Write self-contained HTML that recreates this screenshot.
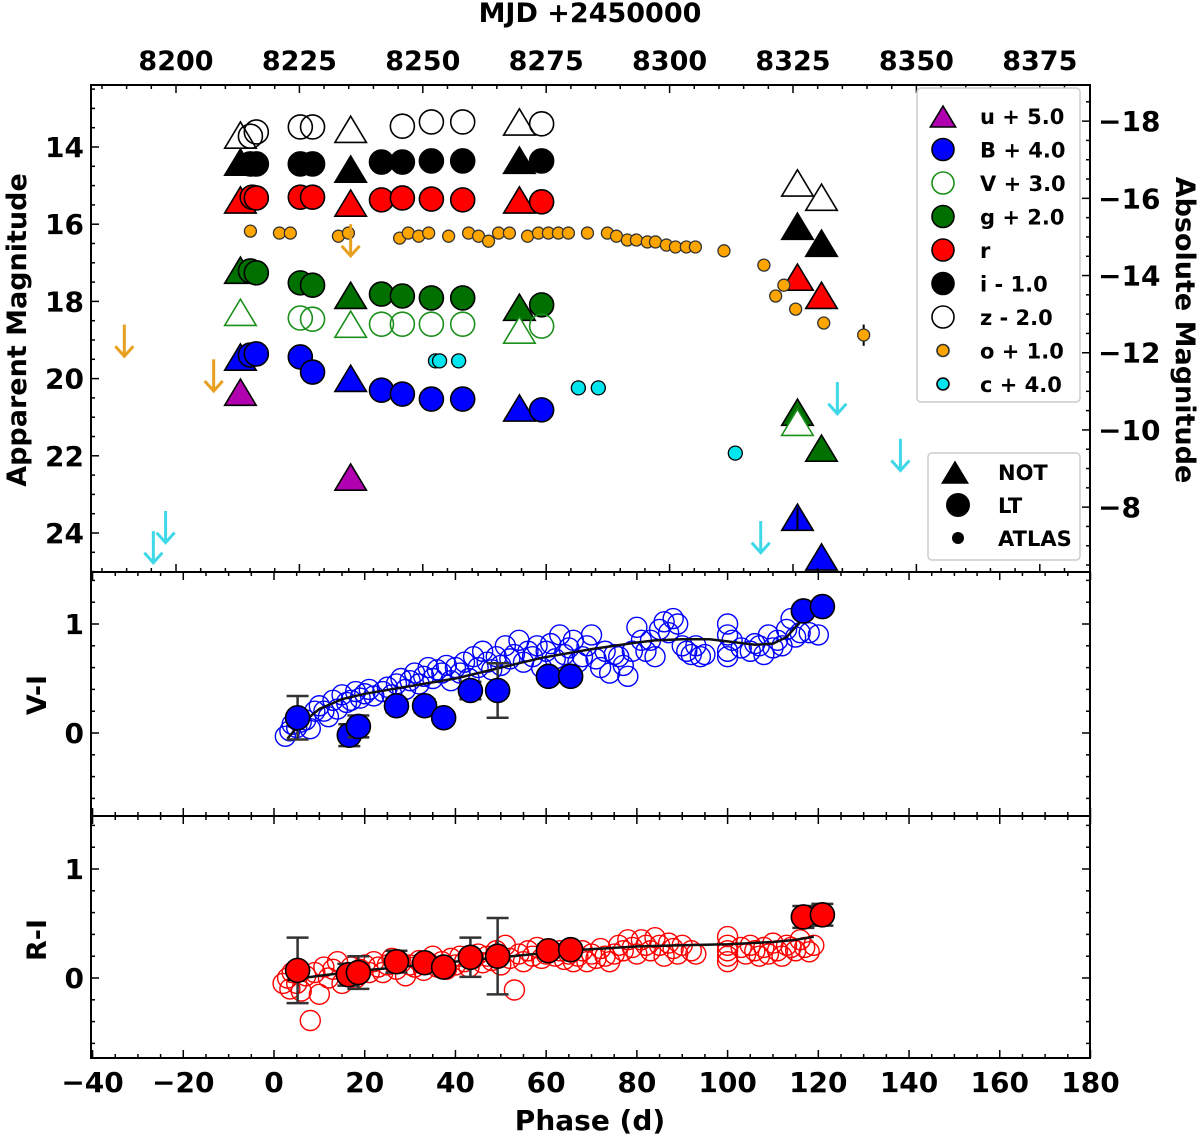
<!DOCTYPE html>
<html><head><meta charset="utf-8"><style>
html,body{margin:0;padding:0;background:#fff}
svg{display:block}
text{font-family:"DejaVu Sans","Liberation Sans",sans-serif;font-weight:bold;fill:#000}
</style></head><body>
<svg id="chart" width="1200" height="1135" viewBox="0 0 1200 1135" xmlns="http://www.w3.org/2000/svg">
<g id="marks"></g>
<g id="axes"></g>
</svg>
<script>
// ---- data (phase in days, apparent magnitude) ----
const zNOT=[[-7.4,13.74],[16.9,13.59],[54.1,13.40],[115.4,14.98],[120.7,15.35]];
const zLT=[[-5.2,13.72],[-3.9,13.61],[5.8,13.48],[8.5,13.48],[28.3,13.46],[34.7,13.35],[41.6,13.35],[59.0,13.40]];
const iNOT=[[-7.4,14.44],[16.9,14.62],[54.1,14.39],[115.4,16.1],[120.7,16.54]];
const iLT=[[-5.2,14.44],[-3.9,14.44],[5.8,14.44],[8.5,14.44],[23.7,14.39],[28.3,14.39],[34.7,14.36],[41.6,14.36],[59.0,14.36]];
const rNOT=[[-7.4,15.42],[16.9,15.5],[54.1,15.42],[115.4,17.42],[120.7,17.89]];
const rLT=[[-4.8,15.3],[-3.9,15.32],[5.8,15.3],[8.5,15.3],[23.7,15.37],[28.3,15.32],[34.7,15.35],[41.6,15.37],[59.0,15.42]];
const gNOT=[[-7.4,17.24],[16.9,17.89],[54.1,18.2],[115.4,20.92],[120.7,21.85]];
const gLT=[[-5.2,17.21],[-3.9,17.26],[5.8,17.52],[8.5,17.58],[23.7,17.81],[28.3,17.86],[34.7,17.91],[41.6,17.91],[59.0,18.09]];
const vNOT=[[-7.4,18.33],[16.9,18.64],[54.1,18.79],[115.4,21.18]];
const vLT=[[5.8,18.43],[8.5,18.46],[23.7,18.59],[28.3,18.59],[34.7,18.59],[41.6,18.59],[59.0,18.64]];
const bNOT=[[-7.4,19.49],[16.9,20.04],[54.1,20.81],[115.4,23.64],[120.7,24.67]];
const bLT=[[-5.2,19.39],[-3.9,19.36],[5.8,19.44],[8.5,19.83],[23.7,20.3],[28.3,20.4],[34.7,20.53],[41.6,20.53],[59.0,20.81]];
const uNOT=[[-7.4,20.4],[16.9,22.6]];
const oATLAS=[[-5.2,16.18],[1.2,16.23],[3.6,16.23],[14.2,16.31],[16.4,16.23],[27.7,16.36],[29.6,16.23],[31.9,16.31],[34.1,16.23],[38.5,16.31],[42.9,16.23],[45.1,16.31],[47.3,16.44],[49.5,16.23],[51.9,16.23],[55.9,16.31],[58.3,16.23],[60.5,16.23],[62.7,16.23],[64.9,16.23],[69.1,16.23],[73.5,16.23],[75.5,16.31],[77.9,16.41],[79.9,16.41],[82.3,16.46],[84.1,16.46],[86.5,16.54],[88.5,16.59],[90.9,16.59],[92.9,16.59],[99.2,16.69],[108.0,17.06],[112.4,17.58],[110.6,17.86],[115.0,18.2],[121.2,18.56],[130.0,18.87]];
const cATLAS=[[35.6,19.54],[36.5,19.54],[40.7,19.54],[67.1,20.24],[71.5,20.24],[101.7,21.93]];
const oLimits=[[-33.0,18.6],[-13.3,19.5],[16.9,16.0]];
const cLimits=[[-23.9,23.43],[-26.6,23.95],[124.2,20.09],[138.1,21.56],[107.3,23.69]];
// ---- colour data ----
const viOpen=[[2.5,-0.03],[3.5,0.02],[4,0.08],[5,0.05],[6,0.1],[7,0.12],[8,0.04],[9,0.2],[10,0.25],[11,0.2],[12,0.15],[13,0.3],[14,0.22],[15,0.35],[16,0.28],[17,0.3],[18,0.38],[19,0.32],[20,0.36],[21,0.4],[22,0.34],[24,0.38],[25,0.42],[26,0.35],[27,0.45],[28,0.5],[29,0.4],[30,0.48],[31,0.55],[32,0.45],[33,0.52],[34,0.6],[35,0.5],[36,0.58],[37,0.55],[38,0.62],[39,0.48],[40,0.6],[41,0.55],[42,0.65],[43,0.5],[44,0.7],[45,0.6],[46,0.75],[47,0.65],[48,0.58],[49,0.7],[50,0.62],[51,0.8],[52,0.68],[53,0.72],[54,0.85],[55,0.65],[56,0.75],[57,0.7],[58,0.8],[59,0.6],[60,0.75],[61,0.82],[62,0.68],[63,0.9],[64,0.72],[65,0.78],[66,0.85],[67,0.65],[68,0.7],[69,0.8],[70,0.9],[71,0.68],[72,0.6],[73,0.75],[74,0.55],[75,0.72],[76,0.7],[77,0.62],[78,0.52],[79,0.75],[80,0.97],[81,0.85],[82,0.75],[83,0.85],[84,0.7],[85,0.95],[86,1.02],[87,0.92],[88,1.05],[89,1.0],[90,0.8],[91,0.75],[92,0.72],[93,0.8],[94,0.7],[95,0.72],[100,1.0],[100,0.9],[100,0.75],[100,0.7],[101,0.85],[103,0.78],[105,0.75],[106,0.82],[107,0.8],[108,0.72],[109,0.9],[110,0.78],[111,0.85],[112,0.8],[113,0.95],[114,1.05],[115,0.88],[116,0.92],[118,0.92],[120,0.9]];
const viFilled=[[5.2,0.14,0.2],[16.6,-0.02,0.1],[18.6,0.06,0.1],[27.0,0.25,0.06],[33.2,0.25,0.06],[37.4,0.14,0.05],[43.3,0.39,0.08],[49.3,0.39,0.25],[60.5,0.52,0.05],[65.4,0.52,0.04],[116.7,1.12,0.04],[120.9,1.16,0.04]];
const viCurve=[[3,-0.05],[5,0.05],[10,0.22],[15,0.31],[20,0.36],[30,0.43],[40,0.5],[46,0.56],[50,0.6],[59,0.69],[70,0.77],[80,0.83],[84,0.85],[90,0.86],[96,0.86],[100,0.84],[106,0.81],[110,0.82],[113,0.88],[116,1.02],[119,1.12]];
const riOpen=[[2,-0.05],[3,0.0],[3.5,-0.1],[4,0.05],[5,-0.05],[6,-0.12],[7,0.02],[8,-0.39],[9,0.05],[10,-0.15],[11,0.1],[12,0.0],[13,0.08],[14,0.15],[15,-0.05],[16,0.03],[17,0.1],[18,0.0],[19,0.08],[20,0.12],[21,0.05],[22,0.15],[23,0.1],[24,0.05],[25,0.12],[26,0.18],[27,0.08],[28,0.14],[29,0.02],[30,0.12],[31,0.1],[32,0.16],[33,0.07],[34,0.14],[35,0.2],[36,0.1],[37,0.15],[38,0.08],[39,0.18],[40,0.12],[41,0.2],[42,0.15],[43,0.1],[44,0.18],[45,0.22],[46,0.14],[47,0.2],[48,0.16],[49,0.25],[50,0.12],[51,0.3],[52,0.18],[53,-0.11],[54,0.22],[55,0.15],[56,0.25],[57,0.2],[58,0.28],[59,0.18],[60,0.22],[62,0.2],[63,0.25],[64,0.17],[65,0.22],[66,0.15],[67,0.2],[68,0.25],[69,0.15],[70,0.22],[71,0.18],[72,0.27],[73,0.2],[74,0.15],[75,0.22],[76,0.3],[77,0.25],[78,0.35],[79,0.28],[80,0.22],[81,0.35],[82,0.3],[83,0.25],[84,0.37],[85,0.3],[86,0.2],[87,0.32],[88,0.27],[89,0.22],[90,0.3],[92,0.25],[93,0.22],[100,0.38],[100,0.3],[100,0.25],[100,0.2],[100,0.15],[103,0.28],[104,0.22],[105,0.3],[106,0.25],[107,0.2],[108,0.28],[109,0.22],[110,0.32],[111,0.25],[112,0.2],[113,0.3],[114,0.28],[115,0.25],[116,0.35],[117,0.28],[118,0.24],[119,0.3]];
const riFilled=[[5.2,0.07,0.3],[16.4,0.03,0.1],[18.6,0.05,0.15],[27.0,0.15,0.1],[33.2,0.14,0.06],[37.4,0.10,0.05],[43.3,0.19,0.18],[49.3,0.20,0.35],[60.5,0.25,0.06],[65.4,0.26,0.05],[116.7,0.56,0.1],[120.9,0.58,0.1]];
const riCurve=[[3,-0.02],[10,0.02],[20,0.07],[30,0.11],[40,0.15],[50,0.19],[60,0.23],[68,0.26],[80,0.29],[90,0.3],[100,0.31],[110,0.33],[115,0.35],[119,0.38]];
const phaseTicks=[-40,-20,0,20,40,60,80,100,120,140,160,180];
const mjdTicks=[8200,8225,8250,8275,8300,8325,8350,8375];
const appTicks=[14,16,18,20,22,24];
const absTicks=[-18,-16,-14,-12,-10,-8];
const colTicks=[0,1];

// ---- scales ----
const X0=91,X1=1090;
const T0=85,T1=572,M1=816,B1=1058;
const xP=p=>274+p*4.536;
const xM=m=>176+(m-8200)*4.936;
const yA=m=>147+(m-14)*38.6;
const yAbs=a=>yA(a+31.33);
const yV=v=>733-v*109;
const yR=v=>978-v*109;
const NS="http://www.w3.org/2000/svg";
const marks=document.getElementById('marks'), axes=document.getElementById('axes');
function mk(tag,attrs,parent){const e=document.createElementNS(NS,tag);for(const k in attrs)e.setAttribute(k,attrs[k]);(parent||marks).appendChild(e);return e;}
function tri(cx,cy,s,fill,stroke){return mk('polygon',{points:`${cx},${cy-s} ${cx-s*1.05},${cy+s*0.75} ${cx+s*1.05},${cy+s*0.75}`,fill:fill,stroke:stroke,'stroke-width':1.6});}

const bands=[
 [zNOT,zLT,'none','#000'],[iNOT,iLT,'#000','#000'],[rNOT,rLT,'#ff0000','#000'],
 [gNOT,gLT,'#007000','#000'],[vNOT,vLT,'none','#1a8f1a'],[bNOT,bLT,'#0000ff','#000'],[uNOT,[],'#b000b0','#000']];
bands.forEach(b=>{
  b[0].forEach(d=>{const t=tri(xP(d[0]),yA(d[1]),15,b[2]==='none'?'#fff':b[2],b[3]);
    
    });
  b[1].forEach(d=>{const c=mk('circle',{cx:xP(d[0]),cy:yA(d[1]),r:12,fill:b[2]==='none'?'none':b[2],stroke:b[3],'stroke-width':1.6});
    
    });
});
// B NOT error bar
mk('line',{x1:xP(115.4),x2:xP(115.4),y1:yA(23.35),y2:yA(23.9),stroke:'#000','stroke-width':2});
// ATLAS o
mk('line',{x1:xP(130),x2:xP(130),y1:yA(18.6),y2:yA(19.15),stroke:'#000','stroke-width':2});
mk('line',{x1:xP(47.3),x2:xP(47.3),y1:yA(16.3),y2:yA(16.6),stroke:'#000','stroke-width':2});
oATLAS.forEach(d=>{const c=mk('circle',{cx:xP(d[0]),cy:yA(d[1]),r:6,fill:'#ffa500',stroke:'#333','stroke-width':1.3});
  
  });
cATLAS.forEach(d=>{const c=mk('circle',{cx:xP(d[0]),cy:yA(d[1]),r:7,fill:'#00e5ee',stroke:'#000','stroke-width':1.3});
  
  });
function arrow(p,m,col){const x=xP(p),y=yA(m),y2=yA(m+0.82);
  const g=mk('g',{stroke:col,'stroke-width':3,fill:'none'});
  
  
  mk('line',{x1:x,x2:x,y1:y,y2:y2},g);mk('polyline',{points:`${x-9},${y2-10} ${x},${y2} ${x+9},${y2-10}`},g);}
oLimits.forEach(d=>arrow(d[0],d[1],'#e8a020'));
cLimits.forEach(d=>arrow(d[0],d[1],'#3fd8e8'));

// ---- colour panels ----
function path(arr,fx,fy){return arr.map((d,i)=>(i?'L':'M')+fx(d[0]).toFixed(1)+','+fy(d[1]).toFixed(1)).join(' ');}
function colourPanel(open,filled,curve,fy,col,name){
  open.forEach(d=>{const c=mk('circle',{cx:xP(d[0]),cy:fy(d[1]),r:10,fill:'none',stroke:col,'stroke-width':1.4});
    
    });
  const l=mk('path',{d:path(curve,xP,fy),fill:'none',stroke:'#111','stroke-width':2.5});
  
  
  filled.forEach(d=>{const x=xP(d[0]);
    mk('line',{x1:x,x2:x,y1:fy(d[1]+d[2]),y2:fy(d[1]-d[2]),stroke:'#333','stroke-width':2.5});
    mk('line',{x1:x-11,x2:x+11,y1:fy(d[1]+d[2]),y2:fy(d[1]+d[2]),stroke:'#333','stroke-width':2.5});
    mk('line',{x1:x-11,x2:x+11,y1:fy(d[1]-d[2]),y2:fy(d[1]-d[2]),stroke:'#333','stroke-width':2.5});
    const c=mk('circle',{cx:x,cy:fy(d[1]),r:12,fill:col,stroke:'#000','stroke-width':1.6});
    
    });
}
colourPanel(viOpen,viFilled,viCurve,yV,'#0000ff','v-i');
colourPanel(riOpen,riFilled,riCurve,yR,'#ff0000','r-i');

// ---- axes ----
function txt(x,y,s,size,anchor,rot,name){const t=mk('text',{x:x,y:y,'font-size':size,'text-anchor':anchor||'middle'},axes);
  if(rot)t.setAttribute('transform',`rotate(${rot} ${x} ${y})`);t.textContent=s;
  
  return t;}
function tk(x1,y1,x2,y2){mk('line',{x1:x1,y1:y1,x2:x2,y2:y2,stroke:'#000','stroke-width':1.5},axes);}
[[T0,T1],[T1,M1],[M1,B1]].forEach((r,i)=>{const f=mk('rect',{x:X0,y:r[0],width:X1-X0,height:r[1]-r[0],fill:'none',stroke:'#000','stroke-width':2},axes);
  
  });
// MJD ticks on top panel
for(let m=8185;m<=8380;m+=5){const x=xM(m);if(x<X0||x>X1)continue;const L=(m%25===0)?8:4;tk(x,T0,x,T0+L);tk(x,T1,x,T1-L);}
mjdTicks.forEach(m=>txt(xM(m),70,String(m),27));
// phase ticks
for(let p=-40;p<=180;p+=5){const x=xP(p);const L=(p%20===0)?8:4;[[T1,M1],[M1,B1]].forEach(r=>{tk(x,r[0],x,r[0]+L);tk(x,r[1],x,r[1]-L);});}
phaseTicks.forEach(p=>txt(xP(p),1092,(p<0?'\u2212':'')+Math.abs(p),28));
// apparent
for(let m=12.5;m<=25;m+=0.5){const y=yA(m);if(y<T0||y>T1)continue;tk(X0,y,X0+(m%2===0?8:4),y);}
appTicks.forEach(m=>txt(84,yA(m)+10,String(m),28,'end'));
// absolute
for(let a=-19;a<=-6;a+=0.5){const y=yAbs(a);if(y<T0||y>T1)continue;tk(X1,y,X1-(a%2===0?8:4),y);}
absTicks.forEach(a=>txt(1098,yAbs(a)+10,'\u2212'+Math.abs(a),28,'start'));
// colour axes
[[yV,T1,M1],[yR,M1,B1]].forEach(c=>{for(let v=-0.8;v<=1.5;v+=0.2){const vv=Math.round(v*10)/10;const y=c[0](vv);if(y<c[1]+1||y>c[2]-1)continue;const L=(Math.abs(vv%1)<1e-6)?8:4;tk(X0,y,X0+L,y);tk(X1,y,X1-L,y);}
  colTicks.forEach(v=>txt(84,c[0](v)+10,String(v),28,'end'));});
txt(590,22,'MJD +2450000',27,'middle',0,'top-x-axis-title');
txt(590,1130,'Phase (d)',28,'middle',0,'x-axis-title');
txt(26,330,'Apparent Magnitude',27,'middle',-90,'y-axis-title');
txt(1176,330,'Absolute Magnitude',27,'middle',90,'right-y-axis-title');
txt(46,695,'V-I',27,'middle',-90,'v-i-axis-title');
txt(46,940,'R-I',27,'middle',-90,'r-i-axis-title');

// ---- legends ----
const lg=mk('g',{},axes);
mk('rect',{x:917,y:88,width:163,height:314,rx:4,fill:'#fff',stroke:'#ccc','stroke-width':1.5},lg);
const legItems=[['tri','#b000b0','#000','u + 5.0'],['c','#0000ff','#000','B + 4.0'],['c','#fff','#1a8f1a','V + 3.0'],['c','#007000','#000','g + 2.0'],['c','#ff0000','#000','r'],['c','#000','#000','i - 1.0'],['c','#fff','#000','z - 2.0'],['s','#ffa500','#333','o + 1.0'],['s','#00e5ee','#000','c + 4.0']];
legItems.forEach((it,i)=>{const y=116+i*33.5;
  if(it[0]==='tri'){const t=tri(943,y+2,12,it[1],it[2]);lg.appendChild(t);}
  else mk('circle',{cx:943,cy:y,r:it[0]==='s'?6:11,fill:it[1],stroke:it[2],'stroke-width':1.6},lg);
  const t=txt(980,y+8,it[3],21,'start',0,'legend-entry');lg.appendChild(t);});
const lg2=mk('g',{},axes);
mk('rect',{x:928,y:453,width:152,height:107,rx:4,fill:'#fff',stroke:'#ccc','stroke-width':1.5},lg2);
lg2.appendChild(tri(955,474,12,'#000','#000'));
mk('circle',{cx:958,cy:505,r:12,fill:'#000'},lg2);
mk('circle',{cx:958,cy:538,r:6,fill:'#000'},lg2);
[['NOT',480],['LT',513],['ATLAS',546]].forEach(e=>{const t=txt(998,e[1],e[0],21,'start',0,'legend-entry');lg2.appendChild(t);});
</script>
</body></html>
